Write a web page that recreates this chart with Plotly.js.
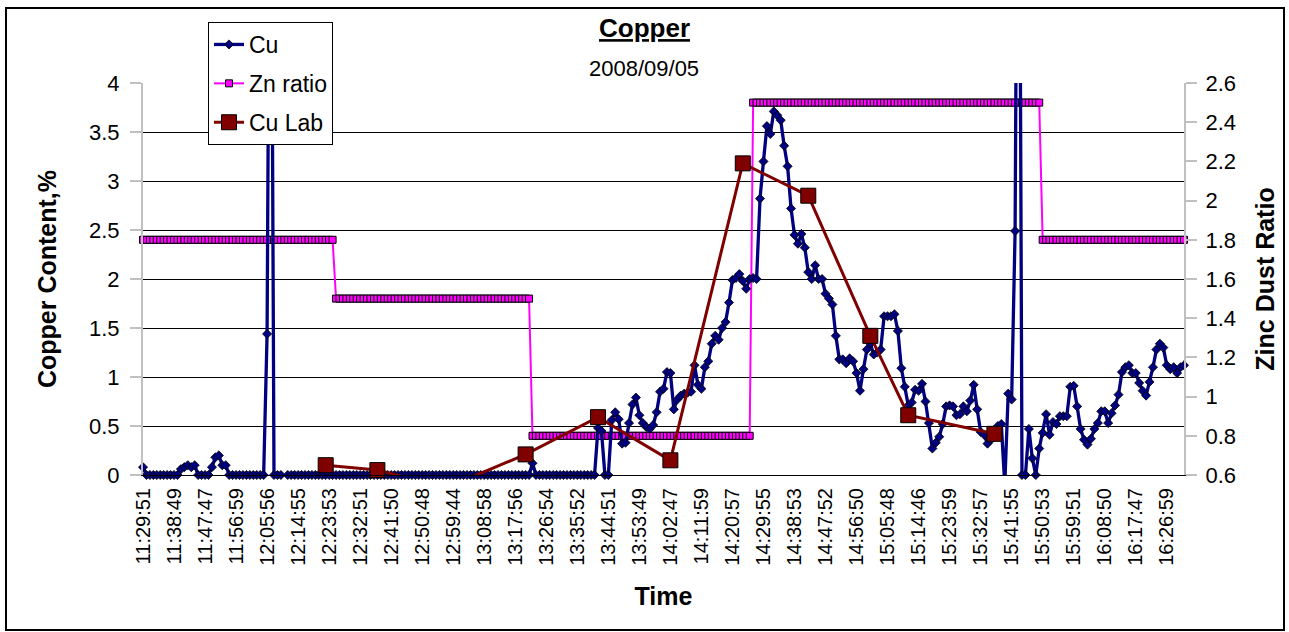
<!DOCTYPE html>
<html>
<head>
<meta charset="utf-8">
<script src="https://cdn.plot.ly/plotly-3.0.1.min.js"></script>
<style>
html,body{margin:0;padding:0;background:#fff;}
#chart{position:absolute;left:0;top:0;width:1289px;height:632px;}
#frame{position:absolute;left:5px;top:7px;width:1276px;height:620px;border:2px solid #000;pointer-events:none;}
</style>
</head>
<body>
<div id="chart"></div>
<div id="frame"></div>
<script>
// Category tick labels (every 9th sample)
const tickIdx = [0,9,18,27,36,45,54,63,72,81,90,99,108,117,126,135,144,153,162,171,180,189,198,207,216,225,234,243,252,261,270,279,288,297];
const tickLabels = ["11:29:51","11:38:49","11:47:47","11:56:59","12:05:56","12:14:55","12:23:53","12:32:51","12:41:50","12:50:48",
  "12:59:44","13:08:58","13:17:56","13:26:54","13:35:52","13:44:51","13:53:49","14:02:47","14:11:59","14:20:57",
  "14:29:55","14:38:53","14:47:52","14:56:50","15:05:48","15:14:46","15:23:59","15:32:57","15:41:55","15:50:53",
  "15:59:51","16:08:50","16:17:47","16:26:59"];

// Cu on-line analyser (%)
const cu = [
0.08,0,0,0,0,0,0,0,0,0,
0,0.06,0.08,0.1,0.08,0.1,0,0,0,0,
0.08,0.18,0.2,0.1,0.1,0,0,0,0,0,
0,0,0,0,0,0,1.44,8,0,0,
0,null,0,0,0,0,0,0,0,0,
0,0,0,0,0,0,0,0,0,0,
0,0,0,0,0,0,0,0,0,0,
0,0,0,0,0,0,0,0,0,0,
0,0,0,0,0,0,0,0,0,0,
0,0,0,0,0,0,0,0,0,0,
0,0,0,0,0,0,0,0,0,0,
0,0,0,0.12,0,0,0,0,0,0,
0,0,0,0,0,0,0,0,0,0,
0,0,0.48,0.45,0,0,0.56,0.64,0.57,0.32,
0.33,0.53,0.72,0.79,0.61,0.53,0.49,0.47,0.51,0.64,
0.85,0.88,1.05,1.04,0.67,0.77,0.81,0.83,0.84,0.85,
1.12,0.92,0.88,1.10,1.16,1.34,1.42,1.38,1.50,1.56,
1.76,1.99,2.01,2.05,1.98,1.90,2.00,2.01,2.00,2.82,
3.20,3.56,3.48,3.71,3.67,3.62,3.36,3.15,2.72,2.45,
2.36,2.46,2.32,2.07,2.00,2.14,2.00,2.00,1.85,1.80,
1.74,1.42,1.18,1.18,1.14,1.19,1.16,1.04,0.86,1.08,
1.28,1.34,1.23,1.25,1.28,1.62,1.62,1.62,1.64,1.47,
1.09,0.90,0.71,0.74,0.87,0.86,0.93,0.75,0.53,0.27,
0.33,0.39,0.52,0.70,0.71,0.70,0.61,0.62,0.70,0.65,
0.76,0.92,0.67,0.44,0.41,0.32,0.36,0.45,0.50,0.52,
-0.1,0.83,0.77,2.49,9,0,0,0.47,0.17,0,
0.27,0.43,0.62,0.41,0.54,0.52,0.60,0.60,0.60,0.90,
0.91,0.70,0.47,0.36,0.31,0.37,0.47,0.53,0.65,0.65,
0.53,0.63,0.71,0.82,1.05,1.10,1.12,1.04,1.04,0.94,
0.86,0.81,0.95,1.10,1.28,1.34,1.30,1.12,1.08,1.10,
1.04,1.10,1.12];

// Zinc dust ratio (right axis)
const zn = [
1.8,1.8,1.8,1.8,1.8,1.8,1.8,1.8,1.8,1.8,
1.8,1.8,1.8,1.8,1.8,1.8,1.8,1.8,1.8,1.8,
1.8,1.8,1.8,1.8,1.8,1.8,1.8,1.8,1.8,1.8,
1.8,1.8,1.8,1.8,1.8,1.8,1.8,1.8,1.8,1.8,
1.8,1.8,1.8,1.8,1.8,1.8,1.8,1.8,1.8,1.8,
1.8,1.8,1.8,1.8,1.8,1.8,
1.5,1.5,1.5,1.5,1.5,1.5,1.5,1.5,1.5,1.5,
1.5,1.5,1.5,1.5,1.5,1.5,1.5,1.5,1.5,1.5,
1.5,1.5,1.5,1.5,1.5,1.5,1.5,1.5,1.5,1.5,
1.5,1.5,1.5,1.5,1.5,1.5,1.5,1.5,1.5,1.5,
1.5,1.5,1.5,1.5,1.5,1.5,1.5,1.5,1.5,1.5,
1.5,1.5,1.5,1.5,1.5,1.5,1.5,
0.8,0.8,0.8,0.8,0.8,0.8,0.8,0.8,0.8,0.8,
0.8,0.8,0.8,0.8,0.8,0.8,0.8,0.8,0.8,0.8,
0.8,0.8,0.8,0.8,0.8,0.8,0.8,0.8,0.8,0.8,
0.8,0.8,0.8,0.8,0.8,0.8,0.8,0.8,0.8,0.8,
0.8,0.8,0.8,0.8,0.8,0.8,0.8,0.8,0.8,0.8,
0.8,0.8,0.8,0.8,0.8,0.8,0.8,0.8,0.8,0.8,
0.8,0.8,0.8,0.8,
2.5,2.5,2.5,2.5,2.5,2.5,2.5,2.5,2.5,2.5,
2.5,2.5,2.5,2.5,2.5,2.5,2.5,2.5,2.5,2.5,
2.5,2.5,2.5,2.5,2.5,2.5,2.5,2.5,2.5,2.5,
2.5,2.5,2.5,2.5,2.5,2.5,2.5,2.5,2.5,2.5,
2.5,2.5,2.5,2.5,2.5,2.5,2.5,2.5,2.5,2.5,
2.5,2.5,2.5,2.5,2.5,2.5,2.5,2.5,2.5,2.5,
2.5,2.5,2.5,2.5,2.5,2.5,2.5,2.5,2.5,2.5,
2.5,2.5,2.5,2.5,2.5,2.5,2.5,2.5,2.5,2.5,
2.5,2.5,2.5,2.5,
1.8,1.8,1.8,1.8,1.8,1.8,1.8,1.8,1.8,1.8,
1.8,1.8,1.8,1.8,1.8,1.8,1.8,1.8,1.8,1.8,
1.8,1.8,1.8,1.8,1.8,1.8,1.8,1.8,1.8,1.8,
1.8,1.8,1.8,1.8,1.8,1.8,1.8,1.8,1.8,1.8,
1.8,1.8];

// Laboratory Cu samples (sample index, %)
const labIdx = [53,68,88,111,132,153,174,193,211,222,247];
const labVal = [0.10,0.05,-0.13,0.21,0.59,0.15,3.18,2.85,1.42,0.61,0.42];

const FONT = "Liberation Sans, Arial, sans-serif";
const idx = cu.map((_, i) => i);

const traces = [
  {name:"Zn ratio", x: idx, y: zn, yaxis:"y", type:"scatter", mode:"lines+markers",
   line:{color:"#ff00ff", width:2}, cliponaxis:false,
   marker:{symbol:"square", size:7, color:"#ff00ff", line:{color:"#000", width:1}},
   legendrank:2, legendgroup:"b"},
  {name:"Cu", x: idx, y: cu, yaxis:"y2", type:"scatter", mode:"lines+markers",
   line:{color:"#000080", width:3.3}, cliponaxis:false,
   marker:{symbol:"diamond", size:7, color:"#000080", line:{color:"#000", width:0.8}},
   legendrank:1, legendgroup:"a"},
  {name:"Cu Lab", x: labIdx, y: labVal, yaxis:"y2", type:"scatter", mode:"lines+markers",
   line:{color:"#800000", width:3}, cliponaxis:false,
   marker:{symbol:"square", size:15, color:"#800000", line:{color:"#000", width:1}},
   legendrank:3, legendgroup:"c"}
];

const layout = {
  width:1289, height:632,
  margin:{l:143, r:105, t:83, b:157},
  paper_bgcolor:"#fff", plot_bgcolor:"#fff",
  font:{family:FONT, color:"#000"},
  showlegend:true,
  title:{text:"<b><u>Copper</u></b>", font:{size:26, family:FONT, color:"#000"},
         x:0.5, xref:"container", xanchor:"center", y:1-28/632, yref:"container", yanchor:"middle"},
  xaxis:{range:[0,302], tickmode:"array", tickvals:tickIdx, ticktext:tickLabels, tickangle:-90,
         ticks:"", showgrid:false, zeroline:false, showline:true, linecolor:"#000", linewidth:1,
         tickfont:{size:20, family:FONT}, ticklabelstandoff:4,
         title:{text:"<b>Time</b>", font:{size:25, family:FONT}, standoff:22}},
  yaxis:{range:[0.6,2.6], side:"right", tick0:0.6, dtick:0.2, showgrid:false, zeroline:false,
         showline:true, linecolor:"#c0c0c0", linewidth:2, ticks:"outside", ticklen:11, tickwidth:2,
         tickcolor:"#c0c0c0", tickfont:{size:22, family:FONT}, ticklabelstandoff:4,
         title:{text:"<b>Zinc Dust Ratio</b>", font:{size:25, family:FONT}, standoff:22}},
  yaxis2:{range:[0,4], side:"left", overlaying:"y", dtick:0.5, tick0:0, showgrid:true, gridcolor:"#000",
         gridwidth:1, zeroline:false, showline:true, linecolor:"#c0c0c0", linewidth:2, ticks:"outside",
         ticklen:11, tickwidth:2, tickcolor:"#c0c0c0", tickfont:{size:22, family:FONT}, ticklabelstandoff:6,
         title:{text:"<b>Copper Content,%</b>", font:{size:25, family:FONT}, standoff:25}},
  legend:{x:(208-143)/1041, y:(475-22)/392, xanchor:"left", yanchor:"top", bgcolor:"#fff",
          bordercolor:"#000", borderwidth:1, font:{size:23, family:FONT}, traceorder:"grouped",
          tracegroupgap:6},
  annotations:[{text:"2008/09/05", xref:"paper", yref:"paper", x:(644-143)/1041, y:(475-68)/392,
                showarrow:false, xanchor:"center", yanchor:"middle", font:{size:22, family:FONT}}]
};

Plotly.newPlot("chart", traces, layout, {displayModeBar:false, staticPlot:true});
</script>
</body>
</html>
